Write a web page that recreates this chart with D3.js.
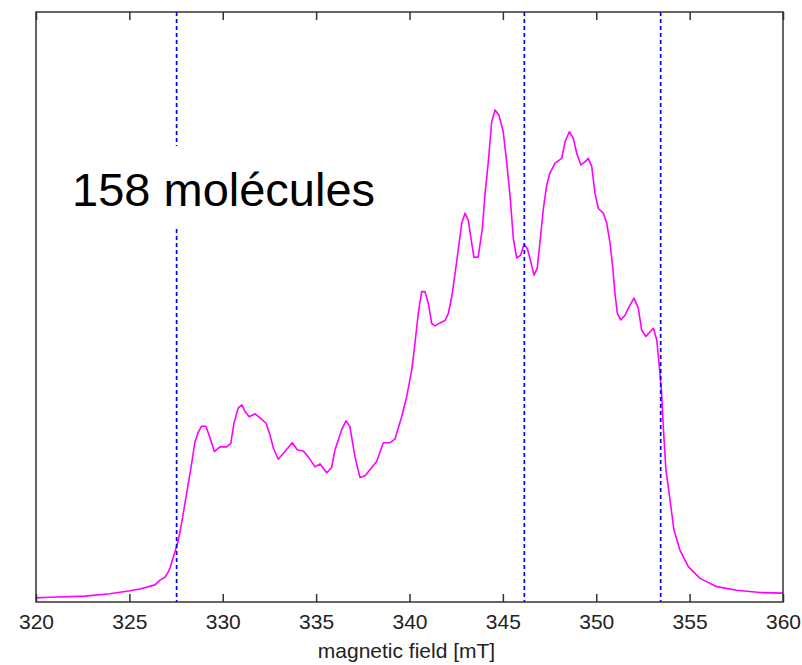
<!DOCTYPE html>
<html>
<head>
<meta charset="utf-8">
<script src="https://cdn.jsdelivr.net/npm/d3@7"></script>
<style>
  html, body { margin: 0; padding: 0; background: #fff; }
  svg { display: block; font-family: "Liberation Sans", Arial, sans-serif; }
</style>
</head>
<body>
<div id="chart"></div>
<script>
// simulated EPR spectrum, intensity in arbitrary units
const field = [
  320.00, 320.75, 322.62, 323.96, 325.03, 325.57, 326.37, 326.64, 326.91, 327.08,
  327.18, 327.47, 327.62, 327.80, 327.98, 328.16, 328.34, 328.51, 328.69, 328.87,
  329.10, 329.32, 329.55, 329.85, 330.21, 330.43, 330.60, 330.83, 331.02, 331.19,
  331.42, 331.73, 332.00, 332.32, 332.53, 332.71, 332.97, 333.33, 333.72, 333.99,
  334.31, 334.58, 334.94, 335.21, 335.57, 335.83, 336.01, 336.37, 336.60, 336.81,
  337.08, 337.35, 337.62, 337.88, 338.24, 338.60, 338.96, 339.22, 339.58, 339.85,
  340.12, 340.29, 340.47, 340.65, 340.83, 341.01, 341.19, 341.37, 341.63, 341.90,
  342.08, 342.26, 342.44, 342.61, 342.80, 342.97, 343.15, 343.28, 343.45, 343.68,
  343.90, 344.04, 344.22, 344.40, 344.58, 344.79, 345.02, 345.20, 345.38, 345.56,
  345.74, 345.95, 346.13, 346.31, 346.49, 346.67, 346.84, 346.99, 347.17, 347.35,
  347.52, 347.79, 348.15, 348.33, 348.56, 348.77, 348.95, 349.17, 349.40, 349.57,
  349.76, 349.93, 350.11, 350.38, 350.56, 350.74, 350.88, 351.00, 351.13, 351.31,
  351.54, 351.77, 352.02, 352.25, 352.43, 352.66, 352.88, 353.06, 353.24, 353.38,
  353.50, 353.59, 353.73, 353.95, 354.16, 354.48, 354.93, 355.56, 356.45, 357.52,
  358.77, 360.00
];
const intensity = [
  0.007, 0.008, 0.010, 0.014, 0.019, 0.022, 0.029, 0.037, 0.042, 0.051,
  0.058, 0.088, 0.105, 0.134, 0.168, 0.202, 0.236, 0.271, 0.288, 0.298,
  0.298, 0.278, 0.255, 0.263, 0.263, 0.269, 0.303, 0.329, 0.334, 0.323,
  0.314, 0.319, 0.312, 0.303, 0.283, 0.261, 0.242, 0.255, 0.270, 0.258,
  0.256, 0.246, 0.229, 0.234, 0.219, 0.228, 0.258, 0.292, 0.307, 0.297,
  0.246, 0.211, 0.214, 0.224, 0.238, 0.270, 0.270, 0.276, 0.314, 0.348,
  0.393, 0.438, 0.489, 0.526, 0.526, 0.506, 0.472, 0.468, 0.473, 0.477,
  0.489, 0.517, 0.557, 0.597, 0.642, 0.659, 0.647, 0.619, 0.584, 0.585,
  0.633, 0.690, 0.746, 0.814, 0.834, 0.825, 0.797, 0.746, 0.690, 0.616,
  0.583, 0.588, 0.606, 0.599, 0.577, 0.554, 0.566, 0.611, 0.667, 0.707,
  0.727, 0.744, 0.752, 0.780, 0.797, 0.786, 0.761, 0.741, 0.746, 0.752,
  0.738, 0.693, 0.667, 0.659, 0.642, 0.608, 0.568, 0.523, 0.489, 0.478,
  0.486, 0.501, 0.515, 0.498, 0.461, 0.450, 0.458, 0.464, 0.444, 0.399,
  0.354, 0.297, 0.224, 0.173, 0.122, 0.088, 0.060, 0.040, 0.026, 0.020,
  0.016, 0.015
];
const markers = [327.53, 346.15, 353.45];
const xTicks = [320, 325, 330, 335, 340, 345, 350, 355, 360];
const xLabel = "magnetic field [mT]";
const note = "158 molécules";

(function () {
  const width = 802, height = 665;
  const margin = { top: 12, right: 19, bottom: 63, left: 36 };
  const iw = width - margin.left - margin.right;
  const ih = height - margin.top - margin.bottom;

  const svg = d3.select("#chart").append("svg")
    .attr("width", width)
    .attr("height", height);

  const g = svg.append("g").attr("transform", `translate(${margin.left},${margin.top})`);

  const x = d3.scaleLinear().domain([320, 360]).range([0, iw]);
  const y = d3.scaleLinear().domain([0, 1]).range([ih, 0]);

  const points = field.map((f, i) => [f, intensity[i]]);

  // spectrum
  g.append("path")
    .datum(points)
    .attr("fill", "none")
    .attr("stroke", "#ff00ff")
    .attr("stroke-width", 1.6)
    .attr("stroke-linejoin", "round")
    .attr("d", d3.line().x((d) => x(d[0])).y((d) => y(d[1])));

  // dashed markers
  g.append("g")
    .selectAll("line")
    .data(markers)
    .join("line")
    .attr("x1", (d) => x(d))
    .attr("x2", (d) => x(d))
    .attr("y1", 0)
    .attr("y2", ih)
    .attr("stroke", "#0000ff")
    .attr("stroke-width", 1.7)
    .attr("stroke-dasharray", "4,3");

  // axes, ticks pointing inward
  const axBottom = g.append("g")
    .attr("transform", `translate(0,${ih})`)
    .call(d3.axisBottom(x).tickValues(xTicks).tickSizeInner(-8).tickSizeOuter(0).tickPadding(12));
  const axTop = g.append("g")
    .call(d3.axisTop(x).tickValues(xTicks).tickSizeInner(-8).tickSizeOuter(0).tickFormat(""));

  [axBottom, axTop].forEach((ax) => {
    ax.select(".domain").remove();
    ax.selectAll("line").attr("stroke", "#333").attr("stroke-width", 1.5);
  });
  axBottom.selectAll("text")
    .attr("font-size", 21)
    .attr("fill", "#222")
    .attr("font-family", "'Liberation Sans', Arial, sans-serif");

  g.append("rect")
    .attr("width", iw)
    .attr("height", ih)
    .attr("fill", "none")
    .attr("stroke", "#333")
    .attr("stroke-width", 1.5);

  svg.append("text")
    .attr("x", margin.left + iw / 2 - 3)
    .attr("y", 658)
    .attr("text-anchor", "middle")
    .attr("font-size", 21)
    .attr("fill", "#222")
    .text(xLabel);

  // annotation with white box
  const box = svg.append("rect").attr("fill", "#fff");
  const label = svg.append("text")
    .attr("x", 72)
    .attr("y", 206)
    .attr("font-size", 47)
    .attr("fill", "#000")
    .text(note);
  const bb = label.node().getBBox();
  box.attr("x", bb.x - 6).attr("y", 146).attr("width", bb.width + 12).attr("height", 81);
})();
</script>
</body>
</html>
